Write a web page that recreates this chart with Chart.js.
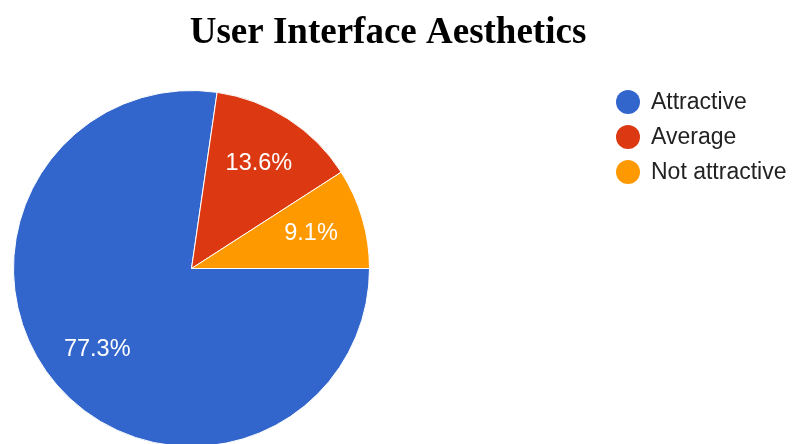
<!DOCTYPE html>
<html>
<head>
<meta charset="utf-8">
<script src="https://cdn.jsdelivr.net/npm/chart.js@4.4.0/dist/chart.umd.min.js"></script>
<style>
  html, body { margin: 0; padding: 0; background: #fff; overflow: hidden; }
  #wrap { position: relative; width: 793px; height: 460px; }
</style>
</head>
<body>
<div id="wrap"><canvas id="pieChart"></canvas></div>
<script>
const chartTitle = 'User Interface Aesthetics';
const categories = ['Attractive', 'Average', 'Not attractive'];
const shares = [77.3, 13.6, 9.1];
const sliceColors = ['#3366cc', '#dc3912', '#ff9900'];

// slice percentages, drawn at 70% of the radius like the original
const sliceLabels = {
    id: 'sliceLabels',
    afterDatasetsDraw(chart) {
        const ctx = chart.ctx;
        const meta = chart.getDatasetMeta(0);
        ctx.save();
        ctx.font = '23.5px "Liberation Sans", Arial, sans-serif';
        ctx.fillStyle = '#ffffff';
        ctx.textAlign = 'center';
        ctx.textBaseline = 'middle';
        meta.data.forEach((arc, i) => {
            const p = arc.getProps(['x', 'y', 'startAngle', 'endAngle', 'outerRadius'], true);
            const mid = (p.startAngle + p.endAngle) / 2;
            const r = p.outerRadius * 0.7;
            ctx.fillText(shares[i].toFixed(1) + '%', p.x + Math.cos(mid) * r, p.y + Math.sin(mid) * r);
        });
        ctx.restore();
    }
};

// title and legend drawn by hand so they sit where the original has them
const titleAndLegend = {
    id: 'titleAndLegend',
    afterDraw(chart) {
        const ctx = chart.ctx;
        ctx.save();
        ctx.font = 'bold 37px "Liberation Serif", "Times New Roman", serif';
        ctx.fillStyle = '#000';
        ctx.textAlign = 'center';
        ctx.textBaseline = 'alphabetic';
        ctx.fillText(chartTitle, 388, 43);

        ctx.font = '23px "Liberation Sans", Arial, sans-serif';
        ctx.textAlign = 'left';
        ctx.textBaseline = 'middle';
        chart.data.labels.forEach((label, i) => {
            const y = 102 + i * 35;
            ctx.beginPath();
            ctx.arc(628, y, 12, 0, Math.PI * 2);
            ctx.fillStyle = sliceColors[i];
            ctx.fill();
            ctx.fillStyle = '#222';
            ctx.fillText(label, 651, y + 1);
        });
        ctx.restore();
    }
};

new Chart(document.getElementById('pieChart'), {
    type: 'pie',
    data: {
        labels: categories,
        datasets: [{
            data: shares,
            backgroundColor: sliceColors,
            borderColor: '#ffffff',
            borderWidth: 1,
            hoverOffset: 0
        }]
    },
    options: {
        responsive: true,
        maintainAspectRatio: false,
        animation: false,
        rotation: 90,
        layout: {
            padding: { left: 13, top: 90, right: 423, bottom: 13 }
        },
        plugins: {
            legend: { display: false },
            title: { display: false },
            tooltip: { enabled: false }
        }
    },
    plugins: [sliceLabels, titleAndLegend]
});
</script>
</body>
</html>
